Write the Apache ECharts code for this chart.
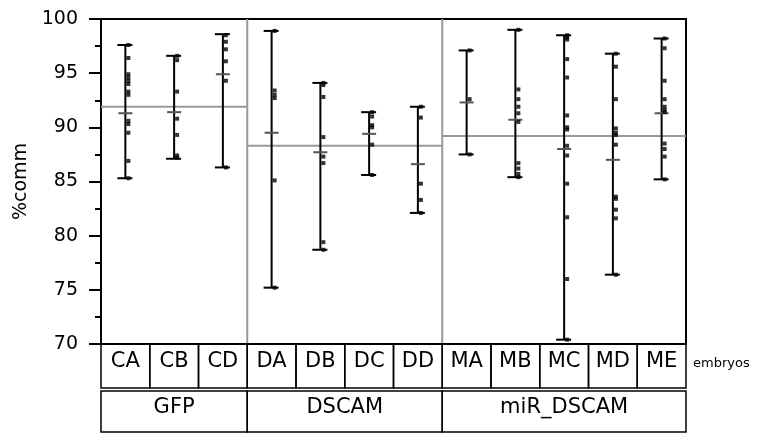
<!DOCTYPE html>
<html>
<head>
<meta charset="utf-8">
<script src="https://cdn.jsdelivr.net/npm/echarts@6/dist/echarts.min.js"></script>
<style>
  html, body { margin: 0; padding: 0; background: #fff; }
  #chart { width: 759px; height: 433px; }
</style>
</head>
<body>
<div id="chart"></div>
<script>
// embryos on the x axis
const categories = ['CA', 'CB', 'CD', 'DA', 'DB', 'DC', 'DD', 'MA', 'MB', 'MC', 'MD', 'ME']
// whiskers and mean per embryo
const minVals  = [85.3, 87.1, 86.3, 75.2, 78.7, 85.6, 82.1, 87.5, 85.4, 70.4, 76.4, 85.2]
const maxVals  = [97.6, 96.6, 98.6, 98.9, 94.1, 91.4, 91.9, 97.1, 99.0, 98.5, 96.8, 98.2]
const meanVals = [91.3, 91.4, 94.9, 89.5, 87.7, 89.4, 86.6, 92.3, 90.7, 88.0, 87.0, 91.3]
// single measurements per embryo
const pointsByCat = [
  [97.6, 96.4, 94.9, 94.6, 94.3, 94.0, 93.3, 93.0, 90.6, 90.3, 89.5, 86.9, 85.3],
  [96.6, 96.2, 93.3, 90.8, 89.3, 87.4, 87.2],
  [98.5, 97.9, 97.2, 96.1, 94.3, 86.3],
  [98.9, 93.4, 93.0, 92.7, 85.1, 75.2],
  [94.1, 93.9, 92.8, 89.1, 87.3, 86.7, 79.4, 78.7],
  [91.4, 91.0, 90.2, 90.0, 88.4, 85.6],
  [91.9, 90.9, 84.8, 83.3, 82.1],
  [97.1, 92.6, 87.5],
  [99.0, 93.5, 92.6, 91.9, 91.3, 90.5, 86.7, 86.2, 85.7, 85.4],
  [98.5, 98.3, 98.1, 96.3, 94.6, 91.1, 90.0, 89.8, 88.3, 87.4, 84.8, 81.7, 76.0, 70.4],
  [96.8, 95.6, 92.6, 89.9, 89.5, 89.3, 88.4, 83.6, 83.4, 82.4, 81.6, 76.4],
  [98.2, 97.3, 94.3, 92.6, 91.9, 91.6, 91.4, 88.5, 88.0, 87.3, 85.2]
]
// treatment groups
const groups     = ['GFP', 'DSCAM', 'miR_DSCAM']
const groupStart = [0, 3, 7]
const groupEnd   = [2, 6, 11]
const groupMean  = [91.9, 88.3, 89.2]
// y axis
const yMin = 70
const yMax = 100
const yStep = 5

const font = 'DejaVu Sans'

const chart = echarts.init(document.getElementById('chart'))

const barData = categories.map((c, i) => [i, minVals[i], maxVals[i], meanVals[i]])
const pointData = []
pointsByCat.forEach((arr, i) => arr.forEach(v => pointData.push([i, v])))
const groupData = groups.map((g, i) => [groupStart[i], groupEnd[i], groupMean[i], i])

function hLine(x1, x2, y, color, w) {
  return { type: 'line', shape: { x1: x1, y1: y, x2: x2, y2: y }, style: { stroke: color, lineWidth: w } }
}
function vLine(x, y1, y2, color, w) {
  return { type: 'line', shape: { x1: x, y1: y1, x2: x, y2: y2 }, style: { stroke: color, lineWidth: w } }
}

const option = {
  animation: false,
  grid: { left: 101, right: 73, top: 19, bottom: 89, show: true, borderColor: '#000', borderWidth: 2 },
  xAxis: {
    type: 'category',
    data: categories,
    boundaryGap: true,
    axisLine: { show: true, lineStyle: { color: '#000', width: 2 } },
    axisTick: { show: false },
    axisLabel: { show: false },
    splitLine: { show: false },
    name: 'embryos',
    nameLocation: 'end',
    nameGap: 7,
    nameTextStyle: { fontFamily: font, fontSize: 13, color: '#000', verticalAlign: 'top', padding: [13, 0, 0, 0] }
  },
  yAxis: {
    type: 'value',
    min: yMin,
    max: yMax,
    interval: yStep,
    name: '%comm',
    nameLocation: 'middle',
    nameGap: 66,
    nameTextStyle: { fontFamily: font, fontSize: 19, color: '#000' },
    axisLine: { show: true, lineStyle: { color: '#000', width: 2 } },
    axisTick: { show: true, length: 12, lineStyle: { color: '#000', width: 2 } },
    minorTick: { show: true, splitNumber: 2, length: 6, lineStyle: { color: '#000', width: 2 } },
    axisLabel: { fontFamily: font, fontSize: 19, color: '#000', margin: 23 },
    splitLine: { show: false }
  },
  series: [
    {
      // group mean lines, dividers and group label boxes
      type: 'custom',
      clip: false,
      silent: true,
      z: 1,
      data: groupData,
      renderItem: function (params, api) {
        const w = api.size([1, 0])[0]
        const left = api.coord([api.value(0), yMin])[0] - w / 2
        const right = api.coord([api.value(1), yMin])[0] + w / 2
        const yb = api.coord([api.value(0), yMin])[1]
        const yt = api.coord([api.value(0), yMax])[1]
        const ym = api.coord([api.value(0), api.value(2)])[1]
        const children = [hLine(left, right, ym, '#999', 2)]
        if (api.value(3) > 0) children.push(vLine(left, yt, yb, '#999', 2))
        children.push({
          type: 'rect',
          shape: { x: left, y: yb + 47, width: right - left, height: 41 },
          style: { fill: 'none', stroke: '#000', lineWidth: 1.5 }
        })
        children.push({
          type: 'text',
          style: {
            text: groups[api.value(3)], x: (left + right) / 2, y: yb + 64,
            align: 'center', verticalAlign: 'middle', fill: '#000',
            font: '21px "' + font + '"'
          }
        })
        return { type: 'group', children: children }
      }
    },
    {
      // embryo label boxes
      type: 'custom',
      clip: false,
      silent: true,
      z: 1,
      data: categories.map((c, i) => [i]),
      renderItem: function (params, api) {
        const w = api.size([1, 0])[0]
        const c = api.coord([api.value(0), yMin])
        return {
          type: 'group',
          children: [
            {
              type: 'rect',
              shape: { x: c[0] - w / 2, y: c[1], width: w, height: 44 },
              style: { fill: 'none', stroke: '#000', lineWidth: 1.5 }
            },
            {
              type: 'text',
              style: {
                text: categories[api.value(0)], x: c[0], y: c[1] + 18,
                align: 'center', verticalAlign: 'middle', fill: '#000',
                font: '21px "' + font + '"'
              }
            }
          ]
        }
      }
    },
    {
      // range whiskers with mean tick
      type: 'custom',
      silent: true,
      z: 3,
      data: barData,
      encode: { x: 0, y: [1, 2, 3] },
      renderItem: function (params, api) {
        const x = api.value(0)
        const lo = api.coord([x, api.value(1)])
        const hi = api.coord([x, api.value(2)])
        const mid = api.coord([x, api.value(3)])
        return {
          type: 'group',
          children: [
            vLine(lo[0], hi[1], lo[1], '#000', 2),
            hLine(lo[0] - 8, lo[0] + 7, lo[1], '#000', 2),
            hLine(hi[0] - 8, hi[0] + 7, hi[1], '#000', 2),
            hLine(mid[0] - 7, mid[0] + 7, mid[1], '#555', 2)
          ]
        }
      }
    },
    {
      type: 'scatter',
      silent: true,
      z: 4,
      data: pointData,
      symbol: 'rect',
      symbolSize: [4, 4],
      symbolOffset: [3, 0],
      itemStyle: { color: '#000' }
    }
  ]
}

chart.setOption(option)
</script>
</body>
</html>
